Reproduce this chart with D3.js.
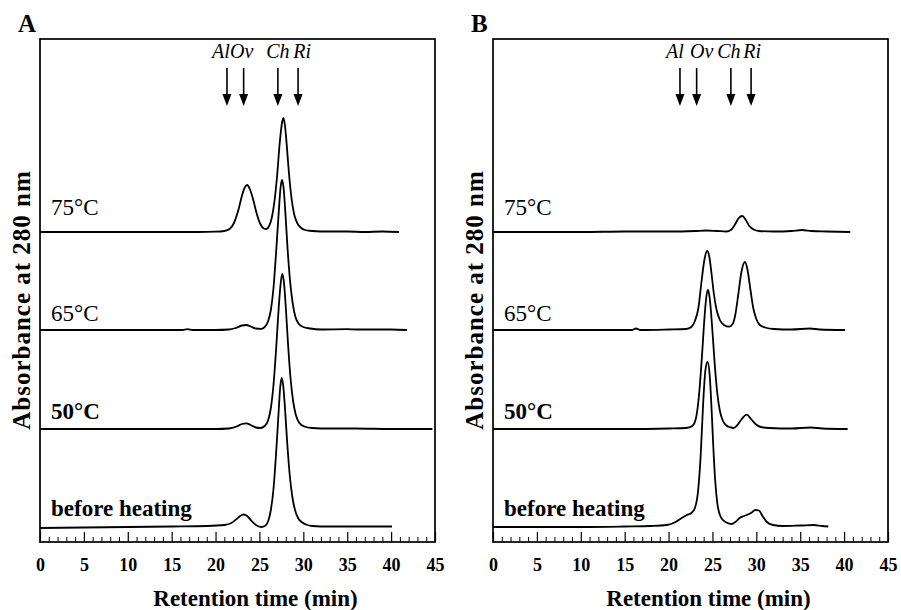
<!DOCTYPE html>
<html><head><meta charset="utf-8">
<script src="https://cdn.jsdelivr.net/npm/d3@7"></script>
<style>
body{margin:0;background:#fff;}
text{font-family:"Liberation Serif","Times New Roman",serif;fill:#000;}
</style></head>
<body><svg id="c" width="901" height="610"></svg>
<script>
// ---------- data (retention time in min, absorbance above trace baseline, a.u.) ----------
const xTicks = [0,5,10,15,20,25,30,35,40,45];
const traceLabels = ["75°C","65°C","50°C","before heating"];
const traceOffsets = [310, 212, 113, 15];   // vertical stacking of traces (a.u.)
const markerNames = ["Al","Ov","Ch","Ri"];
const markerTimes = [21.3, 23.2, 27.1, 29.4];

const a75 = [[0,0],[5,0],[10,0],[15,0],[18,0],[20,0.3],[21,1],[21.6,3],[22.1,9],[22.6,22],[23.0,36],[23.3,44],[23.6,47],[23.9,43],[24.3,32],[24.7,18],[25.1,8],[25.5,3.5],[25.8,3],[26.1,6],[26.4,14],[26.7,30],[27.0,55],[27.3,88],[27.55,108],[27.72,114],[27.9,107],[28.1,88],[28.35,60],[28.65,34],[28.95,18],[29.3,9],[29.7,4.5],[30.2,2],[31,1],[33,0.5],[35,0.5],[37,0],[39,0.5],[40.9,0]];
const a65 = [[0,0],[5,0],[10,0],[15,0],[16.2,0],[16.8,0.8],[17.4,0],[20,0],[21.5,0.5],[22.3,2],[23,4.5],[23.5,5],[24,3.5],[24.6,1.5],[25.2,1.2],[25.6,3],[26.0,9],[26.3,20],[26.6,42],[26.9,78],[27.2,118],[27.4,142],[27.57,150],[27.75,142],[27.95,118],[28.2,82],[28.5,48],[28.8,26],[29.1,13],[29.5,6],[30,3],[30.8,1.5],[32,0.5],[35,0.8],[36,0.5],[40,0.5],[41.8,0]];
const a50 = [[0,0],[10,0],[20,0],[21.5,0.5],[22.4,2.5],[23.0,5],[23.5,5.6],[24.0,4],[24.6,1.5],[25.1,1],[25.6,3],[26.0,9],[26.3,21],[26.6,44],[26.9,80],[27.2,122],[27.45,148],[27.6,155],[27.8,146],[28.0,122],[28.25,86],[28.55,50],[28.85,27],[29.15,14],[29.55,6],[30.1,2.5],[31,1],[33,0.5],[36,0.5],[40,0],[44.7,0]];
const a0 = [[0,-1],[5,-0.5],[10,0],[15,0.5],[19,1],[21,2],[21.8,4],[22.4,8],[22.8,11],[23.2,12.5],[23.6,11],[24.1,6],[24.6,2],[25.2,0],[25.7,1.5],[26.0,6],[26.3,17],[26.6,38],[26.9,74],[27.15,110],[27.35,138],[27.53,149],[27.7,142],[27.9,120],[28.15,86],[28.45,52],[28.75,30],[29.05,17],[29.4,9],[29.8,5],[30.3,2.5],[31,1],[33,0.5],[36,0.5],[40.1,0.5]];

const b75 = [[0,0],[5,0],[10,0],[15,0.5],[20,0.5],[23,1],[24.3,1.5],[25.5,1],[26.6,0.5],[27.1,2],[27.6,8],[28.0,14],[28.4,16],[28.8,12],[29.2,6],[29.7,2.5],[30.3,1],[32,0.5],[34,1],[35.2,2],[36.3,1],[38,0.5],[40.7,0]];
const b65 = [[0,0],[5,0],[10,0],[15,0],[15.8,0],[16.3,1.5],[16.8,0],[20,0.5],[22,1],[22.6,3],[23.0,9],[23.4,22],[23.75,48],[24.1,71],[24.4,79],[24.65,73],[24.9,56],[25.15,37],[25.45,21],[25.85,10],[26.3,5],[26.9,3.3],[27.3,6],[27.6,15],[27.95,36],[28.3,58],[28.7,68],[29.0,60],[29.3,42],[29.65,22],[30.0,11],[30.4,5],[31,2.5],[32,1],[34,0.5],[36.1,1.5],[37.2,0.5],[40.1,0]];
const b50 = [[0,0],[5,0],[10,0],[15,0],[20,0.5],[22,1],[22.7,3],[23.1,10],[23.45,32],[23.8,72],[24.1,112],[24.3,132],[24.5,139],[24.7,130],[24.95,104],[25.25,66],[25.55,36],[25.85,18],[26.2,8],[26.6,3.5],[27.0,1.8],[27.4,1],[27.8,3.5],[28.3,9.5],[28.9,14.3],[29.4,10],[29.9,5],[30.5,2],[31.5,1],[34,0.5],[36.2,1.5],[37.5,0.5],[40.4,0]];
const b0 = [[0,0],[5,0],[10,0],[15,0.5],[18,1],[19.8,2],[20.8,5],[21.5,9],[22.1,12],[22.6,14],[23.0,19],[23.35,35],[23.65,70],[23.95,125],[24.2,157],[24.45,165],[24.7,150],[24.9,118],[25.1,80],[25.3,48],[25.55,24],[25.85,12],[26.2,7],[26.6,4.5],[27.2,3],[27.6,5],[28.1,9],[28.6,11],[28.9,12],[29.4,14],[29.9,17],[30.3,16.5],[30.7,11],[31.2,5],[31.9,2],[33,1],[35,1.5],[36.5,2],[37.5,1],[38.2,0.5]];

const panels = [
  {letter:"A", traces:[a75,a65,a50,a0], left:40, dx:[-6,-2,0,4]},
  {letter:"B", traces:[b75,b65,b50,b0], left:493, dx:[-5,5,-2,1]}
];

// ---------- drawing ----------
const svg = d3.select("#c");
const plotTop = 39, plotBottom = 542, W = 395;
const labelLift = [17, 9, 10, 11];
const y = d3.scaleLinear().domain([0, 503]).range([plotBottom, plotTop]);

panels.forEach(p => {
  const g = svg.append("g").attr("transform", `translate(${p.left},0)`);
  const x = d3.scaleLinear().domain([0,45]).range([0, W]);

  const minor = d3.range(0,46,1).filter(v => v % 5 !== 0);
  g.append("g").attr("transform", `translate(0,${plotBottom})`)
    .call(d3.axisBottom(x).tickValues(minor).tickSize(-5).tickFormat(""))
    .call(s => s.select(".domain").remove())
    .call(s => s.selectAll("line").attr("stroke","#000").attr("stroke-width",1));
  g.append("g").attr("transform", `translate(0,${plotBottom})`)
    .call(d3.axisBottom(x).tickValues(xTicks).tickSize(-10).tickPadding(16).tickFormat(d3.format("d")))
    .call(s => s.select(".domain").remove())
    .call(s => s.selectAll("line").attr("stroke","#000").attr("stroke-width",1.2))
    .call(s => s.selectAll("text").attr("font-family","Liberation Serif").attr("font-weight","bold").attr("font-size",18).attr("fill","#000"));

  g.append("rect").attr("x",0).attr("y",plotTop).attr("width",W).attr("height",plotBottom-plotTop)
    .attr("fill","none").attr("stroke","#000").attr("stroke-width",1.7);

  const line = d3.line().curve(d3.curveMonotoneX);
  p.traces.forEach((tr, i) => {
    line.x(d => x(d[0])).y(d => y(d[1] + traceOffsets[i]));
    g.append("path").attr("d", line(tr)).attr("fill","none").attr("stroke","#000").attr("stroke-width",1.8).attr("stroke-linejoin","round");
    const bold = i >= 2;
    g.append("text").attr("x", 11).attr("y", y(traceOffsets[i]) - labelLift[i])
      .attr("font-size", 23).attr("font-weight", bold ? "bold" : "normal")
      .text(traceLabels[i]);
  });

  markerTimes.forEach((t, i) => {
    const ax = x(t);
    g.append("line").attr("x1",ax).attr("x2",ax).attr("y1",68).attr("y2",96)
      .attr("stroke","#000").attr("stroke-width",1.6);
    g.append("path").attr("d",`M${ax-4.5},94 L${ax+4.5},94 L${ax},106 Z`).attr("fill","#000");
    g.append("text").attr("x", ax + p.dx[i]).attr("y", 58).attr("text-anchor","middle")
      .attr("font-style","italic").attr("font-size",20).text(markerNames[i]);
  });

  svg.append("text").attr("x", p.left - 22).attr("y", 32).attr("font-size", 25).attr("font-weight","bold").text(p.letter);

  g.append("text").attr("x", W/2 + 18).attr("y", 606).attr("text-anchor","middle")
    .attr("font-size", 23).attr("font-weight","bold").text("Retention time (min)");
  g.append("text").attr("transform", `translate(-10,300) rotate(-90)`)
    .attr("text-anchor","middle").attr("font-size", 25).attr("font-weight","bold")
    .attr("letter-spacing", 1)
    .text("Absorbance at 280 nm");
});
</script></body></html>
